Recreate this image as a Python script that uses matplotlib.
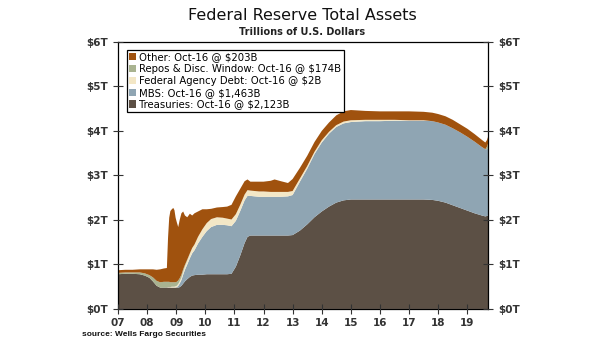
import numpy as np
import matplotlib
matplotlib.use("Agg")
import matplotlib.pyplot as plt
from matplotlib.ticker import FuncFormatter

# Fed balance sheet components, trillions of dollars
dates = [2007.00, 2007.25, 2007.50, 2007.75, 2007.92, 2008.08, 2008.20, 2008.33,
         2008.45, 2008.58, 2008.68, 2008.72, 2008.76, 2008.80, 2008.85, 2008.90,
         2008.94, 2008.98, 2009.02, 2009.07, 2009.12, 2009.18, 2009.24, 2009.30,
         2009.38, 2009.47, 2009.55, 2009.63, 2009.75, 2009.90, 2010.05, 2010.20,
         2010.40, 2010.60, 2010.75, 2010.90, 2011.05, 2011.20, 2011.35, 2011.45,
         2011.55, 2011.70, 2011.85, 2012.00, 2012.25, 2012.38, 2012.60, 2012.84,
         2013.00, 2013.25, 2013.50, 2013.75, 2014.00, 2014.25, 2014.50, 2014.75,
         2015.00, 2015.50, 2016.00, 2016.50, 2017.00, 2017.50, 2017.80, 2018.00,
         2018.25, 2018.50, 2018.75, 2019.00, 2019.25, 2019.50, 2019.62, 2019.68,
         2019.72]

treasuries = [0.78, 0.79, 0.79, 0.78, 0.75, 0.70, 0.62, 0.52,
              0.48, 0.48, 0.48, 0.48, 0.48, 0.48, 0.48, 0.48,
              0.48, 0.48, 0.48, 0.48, 0.49, 0.52, 0.57, 0.62,
              0.67, 0.72, 0.75, 0.76, 0.77, 0.77, 0.78, 0.78,
              0.78, 0.78, 0.78, 0.79, 0.95, 1.20, 1.48, 1.62,
              1.65, 1.65, 1.65, 1.65, 1.65, 1.65, 1.65, 1.65,
              1.66, 1.76, 1.90, 2.06, 2.19, 2.30, 2.39, 2.44,
              2.46, 2.46, 2.46, 2.46, 2.46, 2.46, 2.45, 2.43,
              2.39, 2.33, 2.27, 2.21, 2.15, 2.10, 2.08, 2.09,
              2.11]

mbs = [0.00, 0.00, 0.00, 0.00, 0.00, 0.00, 0.00, 0.00,
       0.00, 0.00, 0.00, 0.00, 0.00, 0.00, 0.00, 0.00,
       0.00, 0.00, 0.01, 0.04, 0.08, 0.13, 0.20, 0.26,
       0.33, 0.42, 0.50, 0.56, 0.70, 0.85, 0.97, 1.06,
       1.11, 1.11, 1.10, 1.07, 1.03, 1.00, 0.96, 0.92,
       0.89, 0.88, 0.87, 0.87, 0.87, 0.87, 0.87, 0.88,
       0.90, 1.10, 1.25, 1.42, 1.55, 1.64, 1.70, 1.73,
       1.74, 1.76, 1.76, 1.77, 1.77, 1.77, 1.77, 1.76,
       1.75, 1.73, 1.70, 1.66, 1.61, 1.54, 1.51, 1.50,
       1.50]

agency = [0.00, 0.00, 0.00, 0.00, 0.00, 0.00, 0.00, 0.00,
          0.00, 0.00, 0.00, 0.01, 0.01, 0.01, 0.02, 0.02,
          0.02, 0.03, 0.03, 0.04, 0.05, 0.06, 0.07, 0.08,
          0.09, 0.10, 0.12, 0.13, 0.15, 0.17, 0.18, 0.18,
          0.17, 0.16, 0.15, 0.15, 0.15, 0.14, 0.13, 0.13,
          0.12, 0.12, 0.12, 0.12, 0.11, 0.11, 0.11, 0.10,
          0.09, 0.07, 0.06, 0.05, 0.05, 0.04, 0.04, 0.04,
          0.04, 0.03, 0.03, 0.02, 0.01, 0.01, 0.00, 0.00,
          0.00, 0.00, 0.00, 0.00, 0.00, 0.00, 0.00, 0.00,
          0.00]

repos = [0.03, 0.03, 0.03, 0.04, 0.05, 0.06, 0.09, 0.11,
         0.12, 0.13, 0.13, 0.12, 0.12, 0.11, 0.10, 0.10,
         0.10, 0.09, 0.09, 0.08, 0.07, 0.06, 0.05, 0.03,
         0.02, 0.01, 0.00, 0.00, 0.00, 0.00, 0.00, 0.00,
         0.00, 0.00, 0.00, 0.00, 0.00, 0.00, 0.00, 0.00,
         0.00, 0.00, 0.00, 0.00, 0.00, 0.00, 0.00, 0.00,
         0.00, 0.00, 0.00, 0.00, 0.00, 0.00, 0.00, 0.00,
         0.00, 0.00, 0.00, 0.00, 0.00, 0.00, 0.00, 0.00,
         0.00, 0.00, 0.00, 0.00, 0.00, 0.00, 0.00, 0.06,
         0.12]

other = [0.06, 0.06, 0.06, 0.07, 0.09, 0.13, 0.18, 0.25,
         0.29, 0.30, 0.31, 0.99, 1.44, 1.60, 1.64, 1.67,
         1.62, 1.45, 1.34, 1.20, 1.31, 1.38, 1.30, 1.11,
         0.95, 0.89, 0.73, 0.70, 0.57, 0.45, 0.31, 0.23,
         0.22, 0.24, 0.27, 0.33, 0.40, 0.36, 0.30, 0.24,
         0.20, 0.21, 0.22, 0.22, 0.25, 0.28, 0.24, 0.20,
         0.27, 0.24, 0.23, 0.22, 0.21, 0.21, 0.22, 0.23,
         0.23, 0.20, 0.19, 0.19, 0.20, 0.19, 0.19, 0.19,
         0.19, 0.19, 0.18, 0.18, 0.17, 0.16, 0.15, 0.15,
         0.15]

labels = ["Treasuries: Oct-16 @ $2,123B",
          "MBS: Oct-16 @ $1,463B",
          "Federal Agency Debt: Oct-16 @ $2B",
          "Repos & Disc. Window: Oct-16 @ $174B",
          "Other: Oct-16 @ $203B"]
colors = ["#5C5045", "#8FA5B3", "#F3E7C6", "#A9B390", "#A0520E"]

year_ticks = list(range(2007, 2020))
year_labels = [f"{y % 100:02d}" for y in year_ticks]

fig = plt.figure(figsize=(6.05, 3.41), dpi=100)
ax = fig.add_axes([0.195, 0.094, 0.612, 0.783])

ax.stackplot(dates, treasuries, mbs, agency, repos, other,
             colors=colors, labels=labels, linewidth=0)

ax.set_xlim(2007, 2019.72)
ax.set_ylim(0, 6)
ax.set_xticks(year_ticks)
ax.set_xticklabels(year_labels)
ax.set_yticks(range(0, 7))
ax.yaxis.set_major_formatter(FuncFormatter(lambda v, p: f"${v:.0f}T"))
ax.tick_params(axis='both', direction='inout', length=7, width=0.8,
               labelsize=7.5, colors='#333333')
ax.tick_params(axis='y', labelright=True, right=True)
ax.tick_params(axis='x', pad=3)
for lab in ax.get_xticklabels() + ax.get_yticklabels():
    lab.set_fontweight('semibold')
for sp in ax.spines.values():
    sp.set_linewidth(0.9)
ax.set_axisbelow(False)

# legend in reverse stacking order, like the original
h, l = ax.get_legend_handles_labels()
leg = ax.legend(h[::-1], l[::-1], loc='upper left', fontsize=7.3,
                handlelength=0.7, handleheight=0.7, handletextpad=0.3,
                labelspacing=0.18, borderpad=0.25, fancybox=False,
                framealpha=1, edgecolor='black',
                bbox_to_anchor=(0.01, 0.99))
leg.get_frame().set_linewidth(0.9)

fig.text(0.5, 0.955, "Federal Reserve Total Assets", ha='center', va='center',
         fontsize=11.5, color='#111111')
fig.text(0.5, 0.905, "Trillions of U.S. Dollars", ha='center', va='center',
         fontsize=7, fontweight='bold', color='#222222')
fig.text(0.135, 0.018, "source: Wells Fargo Securities", ha='left', va='center',
         fontsize=6, fontweight='bold', family='Liberation Sans', color='#111111')

fig.savefig("out.png", dpi=100)
